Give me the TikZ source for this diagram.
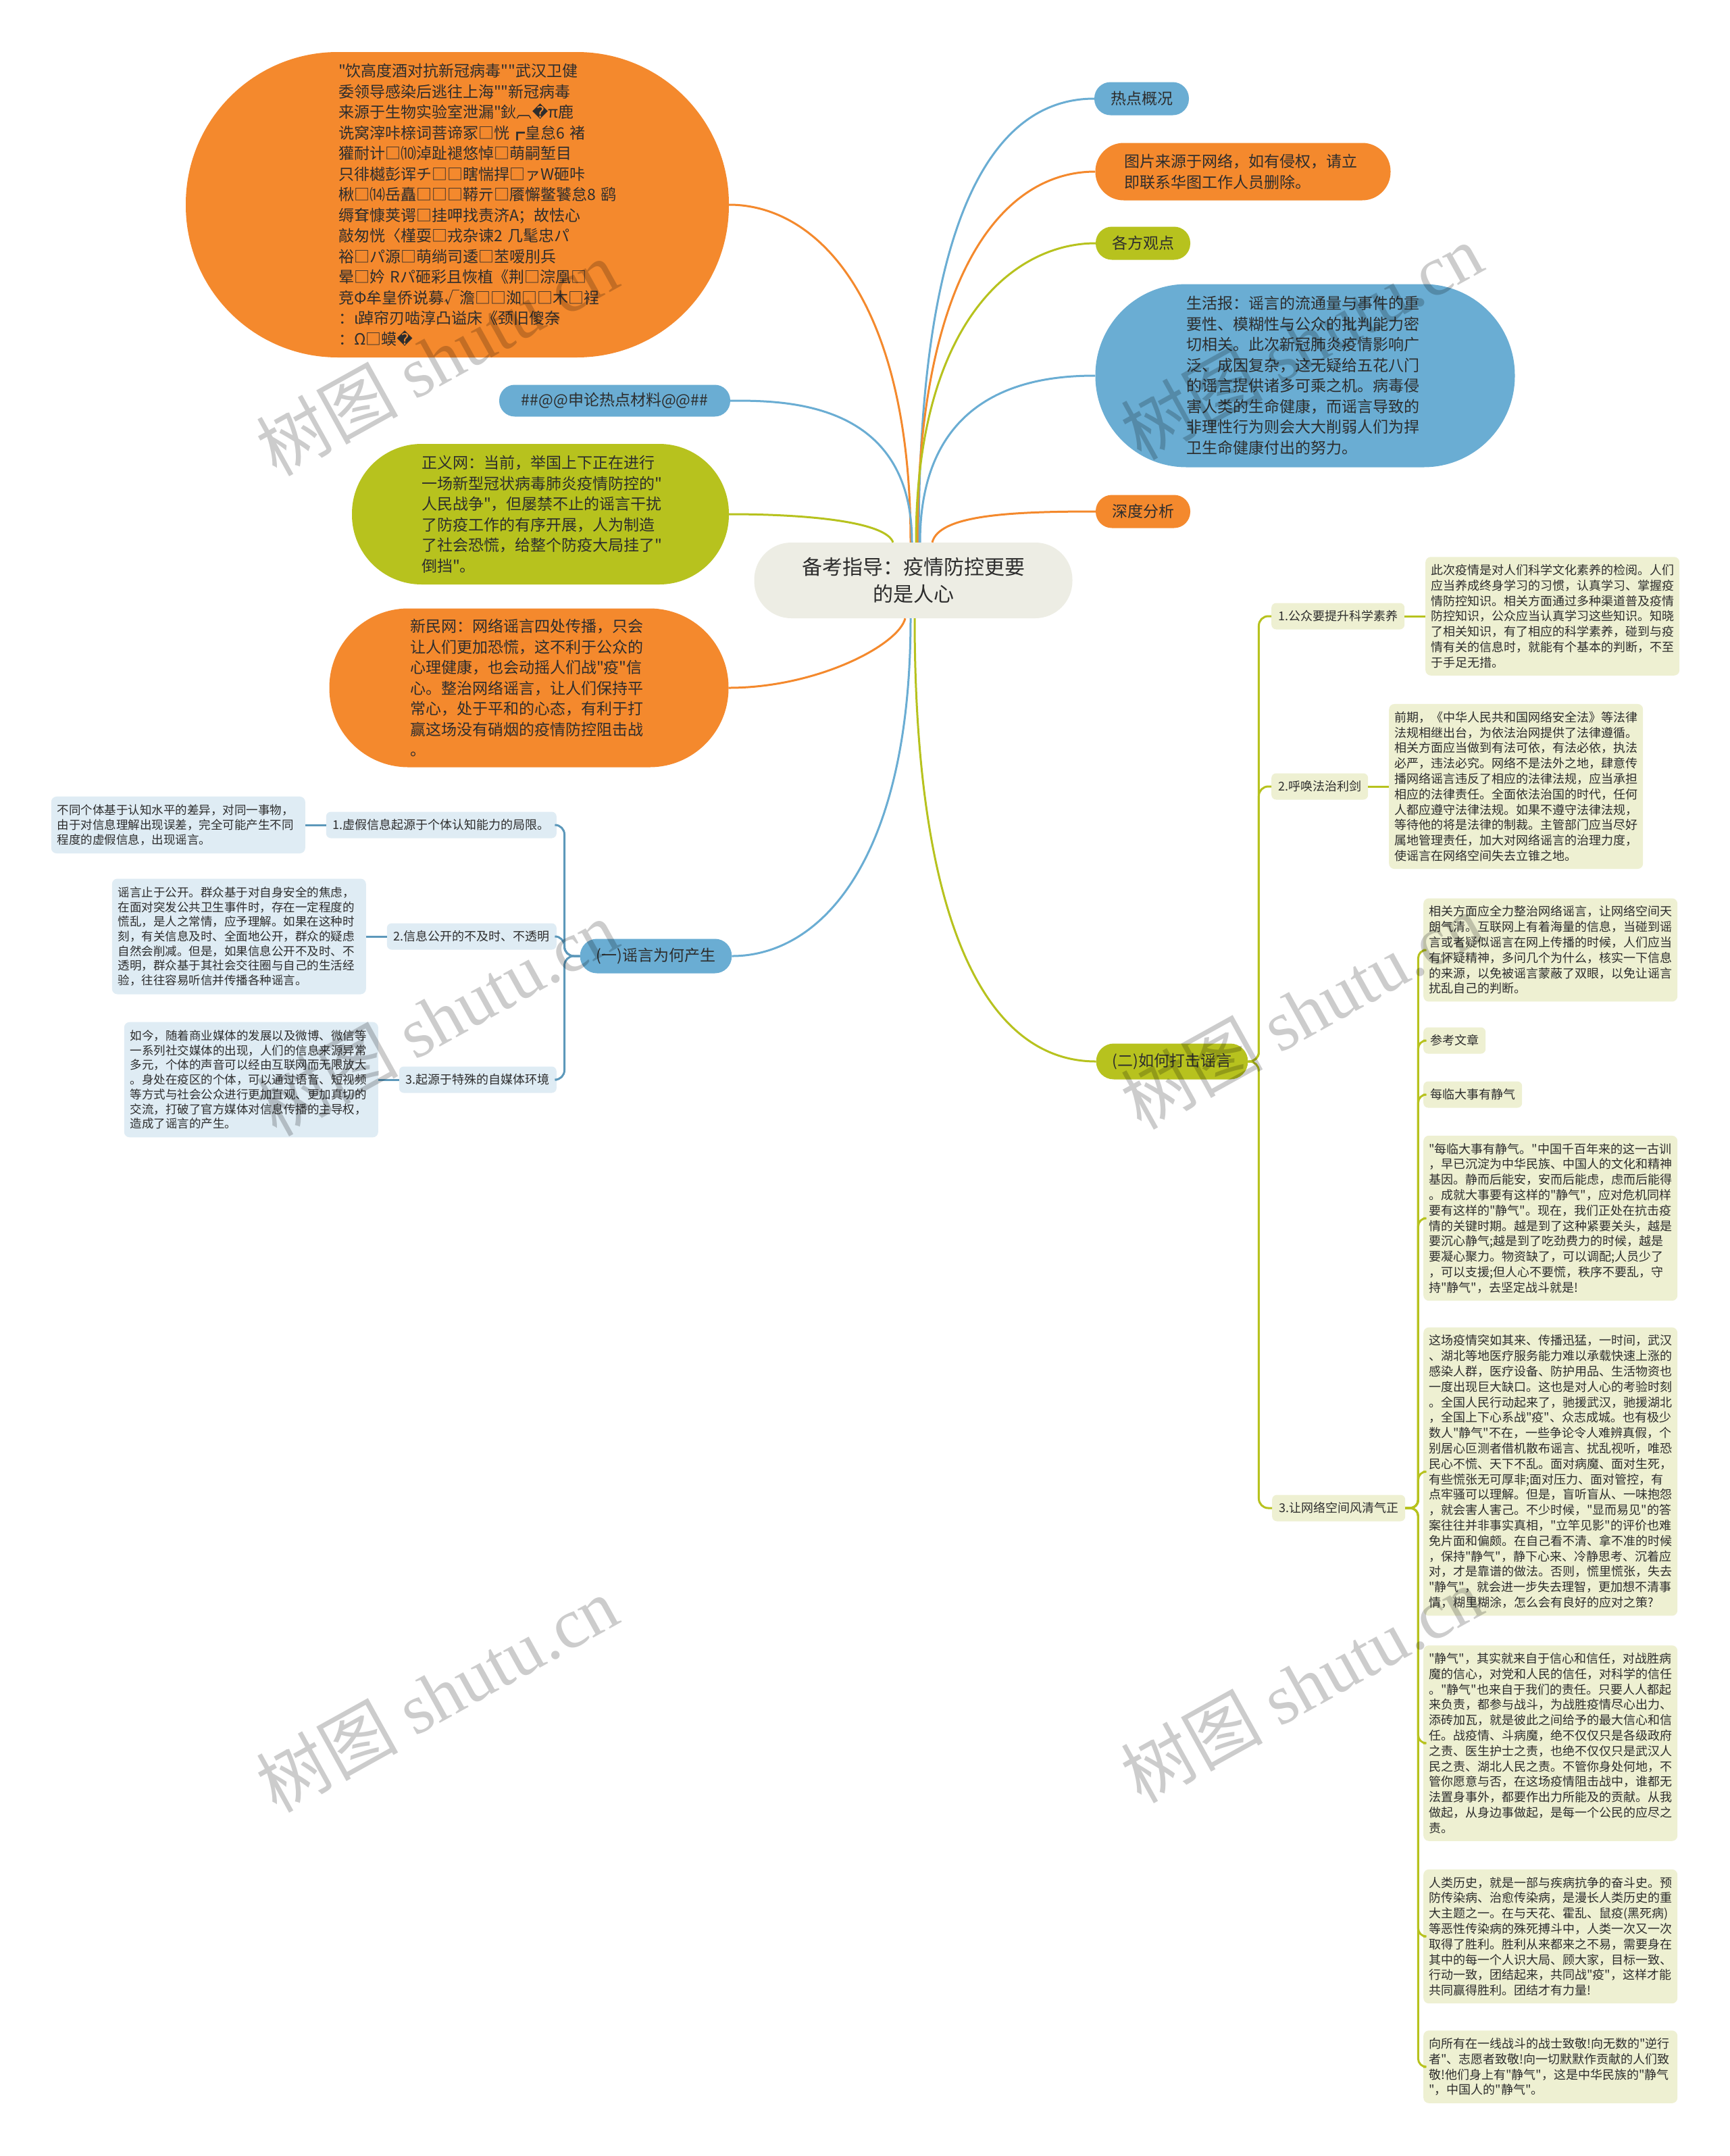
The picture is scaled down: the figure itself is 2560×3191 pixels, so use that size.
\documentclass[tikz,border=0pt]{standalone}
\usepackage{fontspec}
\setmainfont{Noto Sans CJK SC}[Ligatures=TeXOff]
\newfontfamily\markfont{Liberation Serif}
\newfontfamily\symfont{DejaVu Sans}
\usepackage{xcolor}
\usepackage{tikz}
\usetikzlibrary{positioning,calc}
\definecolor{mapblue}{RGB}{106,173,211}
\definecolor{maporange}{RGB}{244,137,45}
\definecolor{mapgreen}{RGB}{183,194,30}
\definecolor{rootfill}{RGB}{237,237,228}
\definecolor{leafgreen}{RGB}{238,240,210}
\definecolor{leafblue}{RGB}{223,236,244}
\definecolor{lineblue}{RGB}{92,152,186}
\definecolor{inktext}{RGB}{45,45,45}

\begin{document}
\begin{tikzpicture}[x=1pt, y=-1pt,
    every node/.style={text=inktext},
    root/.style={fill=rootfill, rounded corners=55, minimum width=471, minimum height=112, align=center, font=\fontsize{30}{40}\selectfont},
    pill/.style={fill=#1, rounded corners=24, minimum height=49, inner xsep=24, font=\fontsize{23}{30}\selectfont},
    blob/.style={fill=#1, align=left, text width=352, inner sep=0, font=\fontsize{23}{30.5}\selectfont},
    topic/.style={fill=#1, rounded corners=7, minimum height=39, inner xsep=10, inner ysep=0, font=\fontsize{18}{22}\selectfont},
    leaf/.style={fill=leafgreen, rounded corners=8, align=left, text width=360, inner xsep=8, inner ysep=11, font=\fontsize{18}{22.8}\selectfont},
    lleaf/.style={fill=leafblue, rounded corners=8, align=left, text width=358, inner xsep=9, inner ysep=12, font=\fontsize{17.5}{21.7}\selectfont},
    link/.style={draw=#1, line width=3},
    wmark/.style={text=black, text opacity=0.2, rotate=29, font=\fontsize{105}{105}\selectfont}]

  \fill[white] (0,0) rectangle (2560,3191);
  \useasboundingbox (0,0) rectangle (2560,3191);

  % centre
  \node[root] (ctr) at (1352,859) {备考指导：疫情防控更要\\的是人心};

  % right side
  \node[pill=mapblue] (hot) at (1690,146) {热点概况};
  \node[blob=maporange, minimum width=437, minimum height=85, rounded corners=42] (pic) at (1840,254)
    {图片来源于网络，如有侵权，请立\\即联系华图工作人员删除。};
  \node[pill=mapgreen] (views) at (1692,360) {各方观点};
  \node[blob=mapblue, minimum width=621, minimum height=271, rounded corners=135] (life) at (1932,556)
    {生活报：谣言的流通量与事件的重\\要性、模糊性与公众的批判能力密\\切相关。此次新冠肺炎疫情影响广\\泛、成因复杂，这无疑给五花八门\\的谣言提供诸多可乘之机。病毒侵\\害人类的生命健康，而谣言导致的\\非理性行为则会大大削弱人们为捍\\卫生命健康付出的努力。};
  \node[pill=maporange] (deep) at (1692,757) {深度分析};

  % left side
  \node[blob=maporange, minimum width=804, minimum height=452, rounded corners=225] (drink) at (677,303)
    {"饮高度酒对抗新冠病毒""武汉卫健\\委领导感染后逃往上海""新冠病毒\\来源于生物实验室泄漏"鈥︹{\symfont �}π鹿\\诜窝滓咔榇词菩谛冢□恍┏皇怠6~褚\\獾耐计□⑽淖趾褪悠悼□萌嗣堑目\\只徘樾彭诨チ□□瞎惴捍□ァW砸咔\\楸□⒁岳矗□□□鞯亓□餍懈鳖饕怠8~鹞\\缛耷慷荚谔□挂呷找责济A；故怯心\\敲匆恍〈槿耍□戎杂谏2~几髦忠パ\\裕□パ源□萌绱司逶□苤嗳刖兵\\晕□妗~Rパ砸彩且恢植《荆□淙凰□\\竞Φ牟皇侨说募√澹□□洳□□木□裎\\：ι踔帘刃啮淳凸谥床《颈旧傻奈\\：Ω□蟆{\symfont �}};
  \node[pill=mapblue, minimum width=342, minimum height=47, rounded corners=23] (tag) at (910,593) {\#\#@@申论热点材料@@\#\#};
  \node[blob=mapgreen, minimum width=558, minimum height=208, rounded corners=103] (just) at (800,761)
    {正义网：当前，举国上下正在进行\\一场新型冠状病毒肺炎疫情防控的"\\人民战争"，但屡禁不止的谣言干扰\\了防疫工作的有序开展，人为制造\\了社会恐慌，给整个防疫大局挂了"\\倒挡"。};
  \node[blob=maporange, minimum width=591, minimum height=235, rounded corners=117] (xinmin) at (783,1018)
    {新民网：网络谣言四处传播，只会\\让人们更加恐慌，这不利于公众的\\心理健康，也会动摇人们战"疫"信\\心。整治网络谣言，让人们保持平\\常心，处于平和的心态，有利于打\\赢这场没有硝烟的疫情防控阻击战\\。};

  % two branches
  \node[pill=mapblue, minimum height=51, rounded corners=25] (why) at (971,1415) {(一)谣言为何产生};
  \node[pill=mapgreen, minimum height=53, rounded corners=26] (how) at (1735,1571) {(二)如何打击谣言};

  % (一) subtree
  \node[topic=leafblue, anchor=east] (w1) at (824,1221) {1.虚假信息起源于个体认知能力的局限。};
  \node[topic=leafblue, anchor=east] (w2) at (824,1386) {2.信息公开的不及时、不透明};
  \node[topic=leafblue, anchor=east] (w3) at (824,1598) {3.起源于特殊的自媒体环境};
  \node[lleaf, anchor=east] (l1) at (452,1221)
    {不同个体基于认知水平的差异，对同一事物，\\由于对信息理解出现误差，完全可能产生不同\\程度的虚假信息，出现谣言。};
  \node[lleaf, anchor=east] (l2) at (542,1386)
    {谣言止于公开。群众基于对自身安全的焦虑，\\在面对突发公共卫生事件时，存在一定程度的\\慌乱，是人之常情，应予理解。如果在这种时\\刻，有关信息及时、全面地公开，群众的疑虑\\自然会削减。但是，如果信息公开不及时、不\\透明，群众基于其社会交往圈与自己的生活经\\验，往往容易听信并传播各种谣言。};
  \node[lleaf, anchor=east] (l3) at (560,1598)
    {如今，随着商业媒体的发展以及微博、微信等\\一系列社交媒体的出现，人们的信息来源异常\\多元，个体的声音可以经由互联网而无限放大\\。身处在疫区的个体，可以通过语音、短视频\\等方式与社会公众进行更加直观、更加真切的\\交流，打破了官方媒体对信息传播的主导权，\\造成了谣言的产生。};

  % (二) subtree
  \node[topic=leafgreen, anchor=west] (h1) at (1882,912) {1.公众要提升科学素养};
  \node[topic=leafgreen, anchor=west] (h2) at (1882,1164) {2.呼唤法治利剑};
  \node[topic=leafgreen, anchor=west] (h3) at (1883,2232) {3.让网络空间风清气正};
  \node[leaf, anchor=west] (r1) at (2110,912)
    {此次疫情是对人们科学文化素养的检阅。人们\\应当养成终身学习的习惯，认真学习、掌握疫\\情防控知识。相关方面通过多种渠道普及疫情\\防控知识，公众应当认真学习这些知识。知晓\\了相关知识，有了相应的科学素养，碰到与疫\\情有关的信息时，就能有个基本的判断，不至\\于手足无措。};
  \node[leaf, anchor=west] (r2) at (2056,1164)
    {前期，《中华人民共和国网络安全法》等法律\\法规相继出台，为依法治网提供了法律遵循。\\相关方面应当做到有法可依，有法必依，执法\\必严，违法必究。网络不是法外之地，肆意传\\播网络谣言违反了相应的法律法规，应当承担\\相应的法律责任。全面依法治国的时代，任何\\人都应遵守法律法规。如果不遵守法律法规，\\等待他的将是法律的制裁。主管部门应当尽好\\属地管理责任，加大对网络谣言的治理力度，\\使谣言在网络空间失去立锥之地。};
  \node[leaf, anchor=west] (c1) at (2107,1406)
    {相关方面应全力整治网络谣言，让网络空间天\\朗气清。互联网上有着海量的信息，当碰到谣\\言或者疑似谣言在网上传播的时候，人们应当\\有怀疑精神，多问几个为什么，核实一下信息\\的来源，以免被谣言蒙蔽了双眼，以免让谣言\\扰乱自己的判断。};
  \node[topic=leafgreen, anchor=west] (c2) at (2107,1540) {参考文章};
  \node[topic=leafgreen, anchor=west] (c3) at (2107,1620) {每临大事有静气};
  \node[leaf, anchor=west] (c4) at (2107,1803)
    {"每临大事有静气。"中国千百年来的这一古训\\，早已沉淀为中华民族、中国人的文化和精神\\基因。静而后能安，安而后能虑，虑而后能得\\。成就大事要有这样的"静气"，应对危机同样\\要有这样的"静气"。现在，我们正处在抗击疫\\情的关键时期。越是到了这种紧要关头，越是\\要沉心静气;越是到了吃劲费力的时候，越是\\要凝心聚力。物资缺了，可以调配;人员少了\\，可以支援;但人心不要慌，秩序不要乱，守\\持"静气"，去坚定战斗就是!};
  \node[leaf, anchor=west] (c5) at (2107,2178)
    {这场疫情突如其来、传播迅猛，一时间，武汉\\、湖北等地医疗服务能力难以承载快速上涨的\\感染人群，医疗设备、防护用品、生活物资也\\一度出现巨大缺口。这也是对人心的考验时刻\\。全国人民行动起来了，驰援武汉，驰援湖北\\，全国上下心系战"疫"、众志成城。也有极少\\数人"静气"不在，一些争论令人难辨真假，个\\别居心叵测者借机散布谣言、扰乱视听，唯恐\\民心不慌、天下不乱。面对病魔、面对生死，\\有些慌张无可厚非;面对压力、面对管控，有\\点牢骚可以理解。但是，盲听盲从、一味抱怨\\，就会害人害己。不少时候，"显而易见"的答\\案往往并非事实真相，"立竿见影"的评价也难\\免片面和偏颇。在自己看不清、拿不准的时候\\，保持"静气"，静下心来、冷静思考、沉着应\\对，才是靠谱的做法。否则，慌里慌张，失去\\"静气"，就会进一步失去理智，更加想不清事\\情，糊里糊涂，怎么会有良好的应对之策?};
  \node[leaf, anchor=west] (c6) at (2107,2580)
    {"静气"，其实就来自于信心和信任，对战胜病\\魔的信心，对党和人民的信任，对科学的信任\\。"静气"也来自于我们的责任。只要人人都起\\来负责，都参与战斗，为战胜疫情尽心出力、\\添砖加瓦，就是彼此之间给予的最大信心和信\\任。战疫情、斗病魔，绝不仅仅只是各级政府\\之责、医生护士之责，也绝不仅仅只是武汉人\\民之责、湖北人民之责。不管你身处何地，不\\管你愿意与否，在这场疫情阻击战中，谁都无\\法置身事外，都要作出力所能及的贡献。从我\\做起，从身边事做起，是每一个公民的应尽之\\责。};
  \node[leaf, anchor=west] (c7) at (2107,2866)
    {人类历史，就是一部与疾病抗争的奋斗史。预\\防传染病、治愈传染病，是漫长人类历史的重\\大主题之一。在与天花、霍乱、鼠疫(黑死病)\\等恶性传染病的殊死搏斗中，人类一次又一次\\取得了胜利。胜利从来都来之不易，需要身在\\其中的每一个人识大局、顾大家，目标一致、\\行动一致，团结起来，共同战"疫"，这样才能\\共同赢得胜利。团结才有力量!};
  \node[leaf, anchor=west] (c8) at (2107,3059)
    {向所有在一线战斗的战士致敬!向无数的"逆行\\者"、志愿者致敬!向一切默默作贡献的人们致\\敬!他们身上有"静气"，这是中华民族的"静气\\"，中国人的"静气"。};

  % links from the centre
  \draw[link=mapblue] ($(ctr.north)+(8,0)$) .. controls +(0,-444) and +(-166,0) .. (hot.west);
  \draw[link=maporange] ($(ctr.north)+(6,0)$) .. controls +(0,-384) and +(-144,0) .. (pic.west);
  \draw[link=mapgreen] ($(ctr.north)+(4,0)$) .. controls +(0,-325) and +(-122,0) .. (views.west);
  \draw[link=mapblue] ($(ctr.north)+(10,0)$) .. controls +(0,-229) and +(-86,0) .. (life.west);
  \draw[link=maporange] ($(ctr.north)+(28,0)$) .. controls +(10,-40) and +(-130,0) .. (deep.west);
  \draw[link=maporange] ($(ctr.north)+(-4,0)$) .. controls +(0,-355) and +(133,0) .. (drink.east);
  \draw[link=mapblue] ($(ctr.north)+(-2,0)$) .. controls +(0,-211) and +(79,0) .. (tag.east);
  \draw[link=mapgreen] ($(ctr.north)+(-30,0)$) .. controls +(-10,-30) and +(120,0) .. (just.east);
  \draw[link=maporange] ($(ctr.south)+(-12,0)$) .. controls +(-10,40) and +(130,0) .. (xinmin.east);
  \draw[link=mapblue] ($(ctr.south)+(-4,0)$) .. controls +(0,355) and +(133,0) .. (why.east);
  \draw[link=mapgreen] ($(ctr.south)+(2,0)$) .. controls +(0,443) and +(-166,0) .. (how.west);

  % (一) brackets
  \foreach \w in {w1,w2,w3}
    \draw[link=lineblue, rounded corners=14] (why.west) -- ++(-23,0) |- (\w.east);
  \draw[link=lineblue] (w1.west) -- (l1.east);
  \draw[link=lineblue] (w2.west) -- (l2.east);
  \draw[link=lineblue] (w3.west) -- (l3.east);

  % (二) brackets
  \foreach \h in {h1,h2,h3}
    \draw[link=mapgreen, rounded corners=14] (how.east) -- ++(16,0) |- (\h.west);
  \draw[link=mapgreen] (h1.east) -- (r1.west);
  \draw[link=mapgreen] (h2.east) -- (r2.west);
  \foreach \c in {c1,c2,c3,c4,c5,c6,c7,c8}
    \draw[link=mapgreen, rounded corners=12] (h3.east) -- ++(19,0) |- (\c.west);

  % watermark
  \foreach \p in {(647,529),(1927,505),(647,1506),(1927,1496),(647,2507),(1927,2493)}
    \node[wmark] at \p {树图 {\markfont shutu.cn}};
\end{tikzpicture}
\end{document}
